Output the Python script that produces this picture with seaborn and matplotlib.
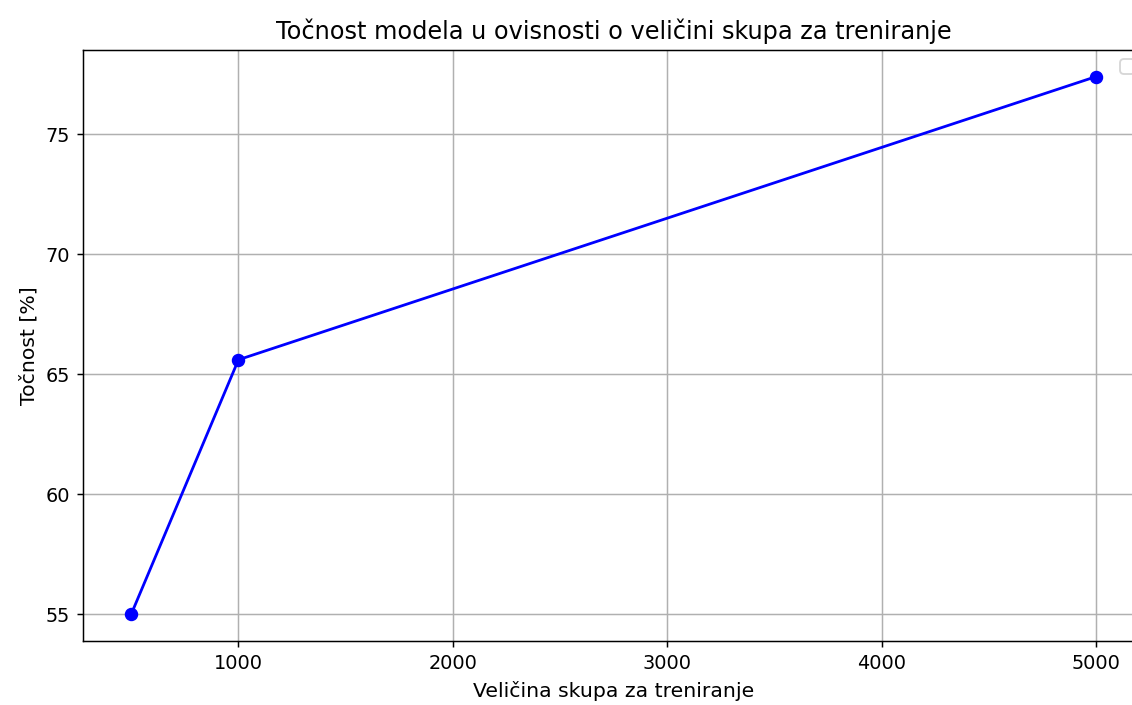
import matplotlib
matplotlib.use("Agg")
import matplotlib.pyplot as plt
import seaborn as sns
import pandas as pd

train_sizes = [500, 1000, 5000]
accuracy = [55.0, 65.6, 77.4]

df = pd.DataFrame({"size": train_sizes, "acc": accuracy})

dpi = 133.333
fig = plt.figure(figsize=((1132 + 0.3) / dpi, (705 + 0.3) / dpi), dpi=dpi)
ax = fig.add_axes([83 / 1132, (705 - 641) / 705, (1144 - 83) / 1132, (641 - 50) / 705])

sns.lineplot(data=df, x="size", y="acc", marker="o", color="blue",
             markeredgecolor="blue", markersize=6.5, linewidth=1.5, ax=ax)

ax.set_title("Točnost modela u ovisnosti o veličini skupa za treniranje", fontsize=13)
ax.set_xlabel("Veličina skupa za treniranje", fontsize=11)
ax.set_ylabel("Točnost [%]", fontsize=11)
ax.grid(True)
ax.set_xticks([1000, 2000, 3000, 4000, 5000])
ax.set_yticks([55, 60, 65, 70, 75])
ax.tick_params(labelsize=10.4)
ax.legend(loc="upper right")

fig.savefig("out.png", dpi=dpi)
